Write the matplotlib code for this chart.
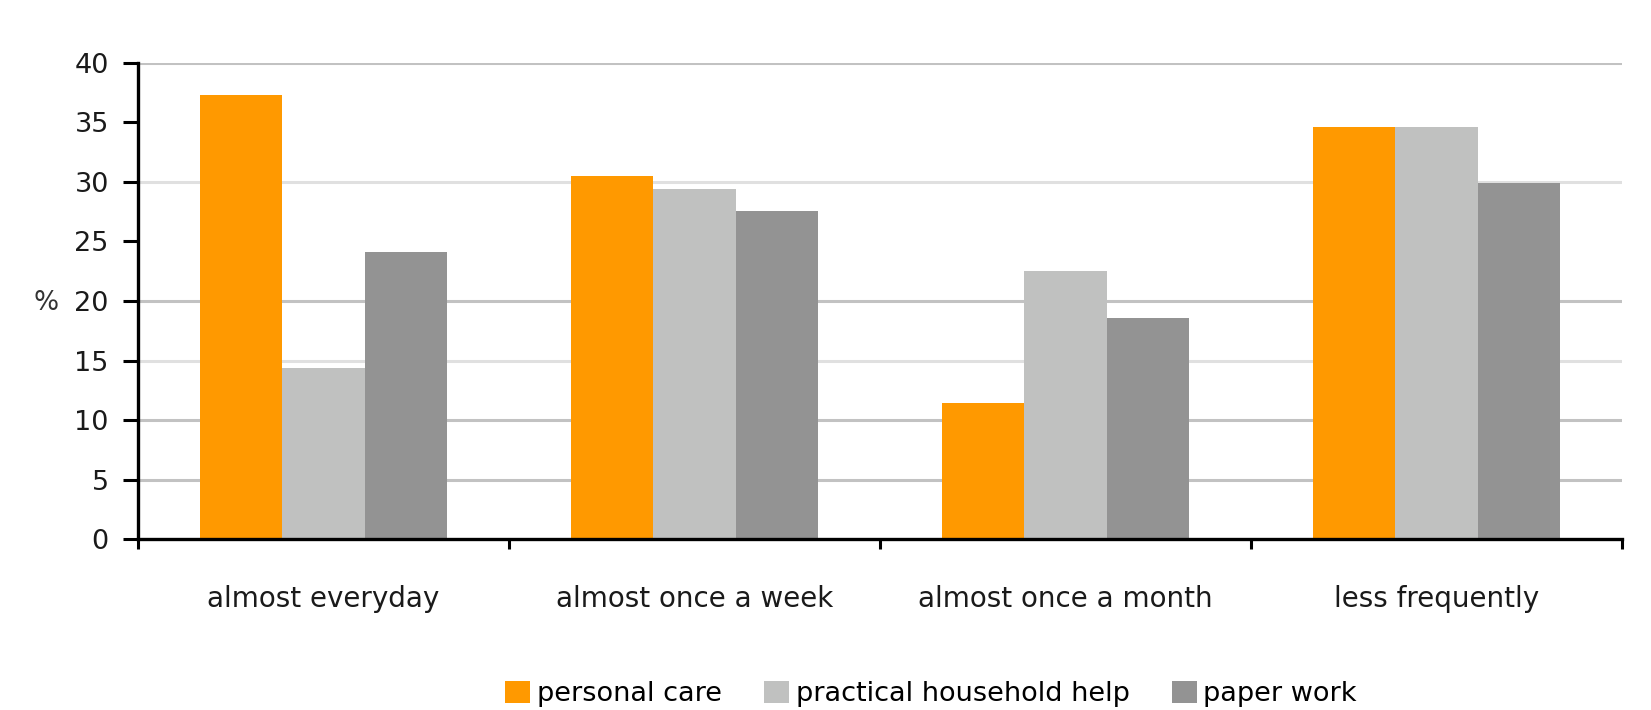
import matplotlib
matplotlib.use("Agg")
import matplotlib.pyplot as plt
import numpy as np

categories = ["almost everyday", "almost once a week", "almost once a month", "less frequently"]
series_names = ["personal care", "practical household help", "paper work"]
personal_care = [37.3, 30.5, 11.4, 34.6]
household_help = [14.4, 29.4, 22.5, 34.6]
paper_work = [24.1, 27.6, 18.6, 29.9]
y_ticks = [0, 5, 10, 15, 20, 25, 30, 35, 40]
grid_dark = [5, 10, 20, 40]
grid_light = [15, 30]

colors = ["#FF9900", "#C0C1C0", "#939393"]

fig = plt.figure(figsize=(16.51, 7.10), dpi=100)
ax = fig.add_axes([0.0836, 0.2408, 0.8988, 0.6705])

x = np.arange(len(categories))
width = 0.2224
all_series = [personal_care, household_help, paper_work]
for i, (vals, name, c) in enumerate(zip(all_series, series_names, colors)):
    ax.bar(x + (i - 1) * width, vals, width, color=c, label=name, zorder=3, linewidth=0)

for g in grid_dark:
    ax.axhline(g, color="#C2C2C2", lw=2.2, zorder=1)
for g in grid_light:
    ax.axhline(g, color="#E0E0E0", lw=2.2, zorder=1)

ax.set_xlim(-0.5, len(categories) - 0.5)
ax.set_ylim(0, 40)
ax.set_yticks(y_ticks)
ax.set_yticklabels([str(t) for t in y_ticks], fontsize=19.5, color="#1a1a1a")
ax.tick_params(axis="y", length=11, width=2.2, pad=10, direction="out")

# category boundaries get the ticks, labels sit at the group centres
ax.set_xticks(np.arange(len(categories) + 1) - 0.5)
ax.set_xticklabels([])
ax.set_xticks(x, minor=True)
ax.set_xticklabels(categories, minor=True, fontsize=20, color="#1a1a1a")
ax.tick_params(axis="x", which="major", length=7.5, width=2.2, direction="out")
ax.tick_params(axis="x", which="minor", length=0, pad=33)

for side in ["top", "right"]:
    ax.spines[side].set_visible(False)
for side in ["left", "bottom"]:
    ax.spines[side].set_linewidth(2.4)
    ax.spines[side].set_color("black")
    ax.spines[side].set_zorder(4)

fig.text(0.02, 1 - 303 / 710, "%", fontsize=19, color="#333333", va="center", ha="left")

fig.legend(loc="center", bbox_to_anchor=(0.564, 0.0225), ncol=3, frameon=False,
           fontsize=19.5, handlelength=0.92, handleheight=0.9, handletextpad=0.25,
           columnspacing=1.55)

fig.savefig("out.png", dpi=100, facecolor="white")
